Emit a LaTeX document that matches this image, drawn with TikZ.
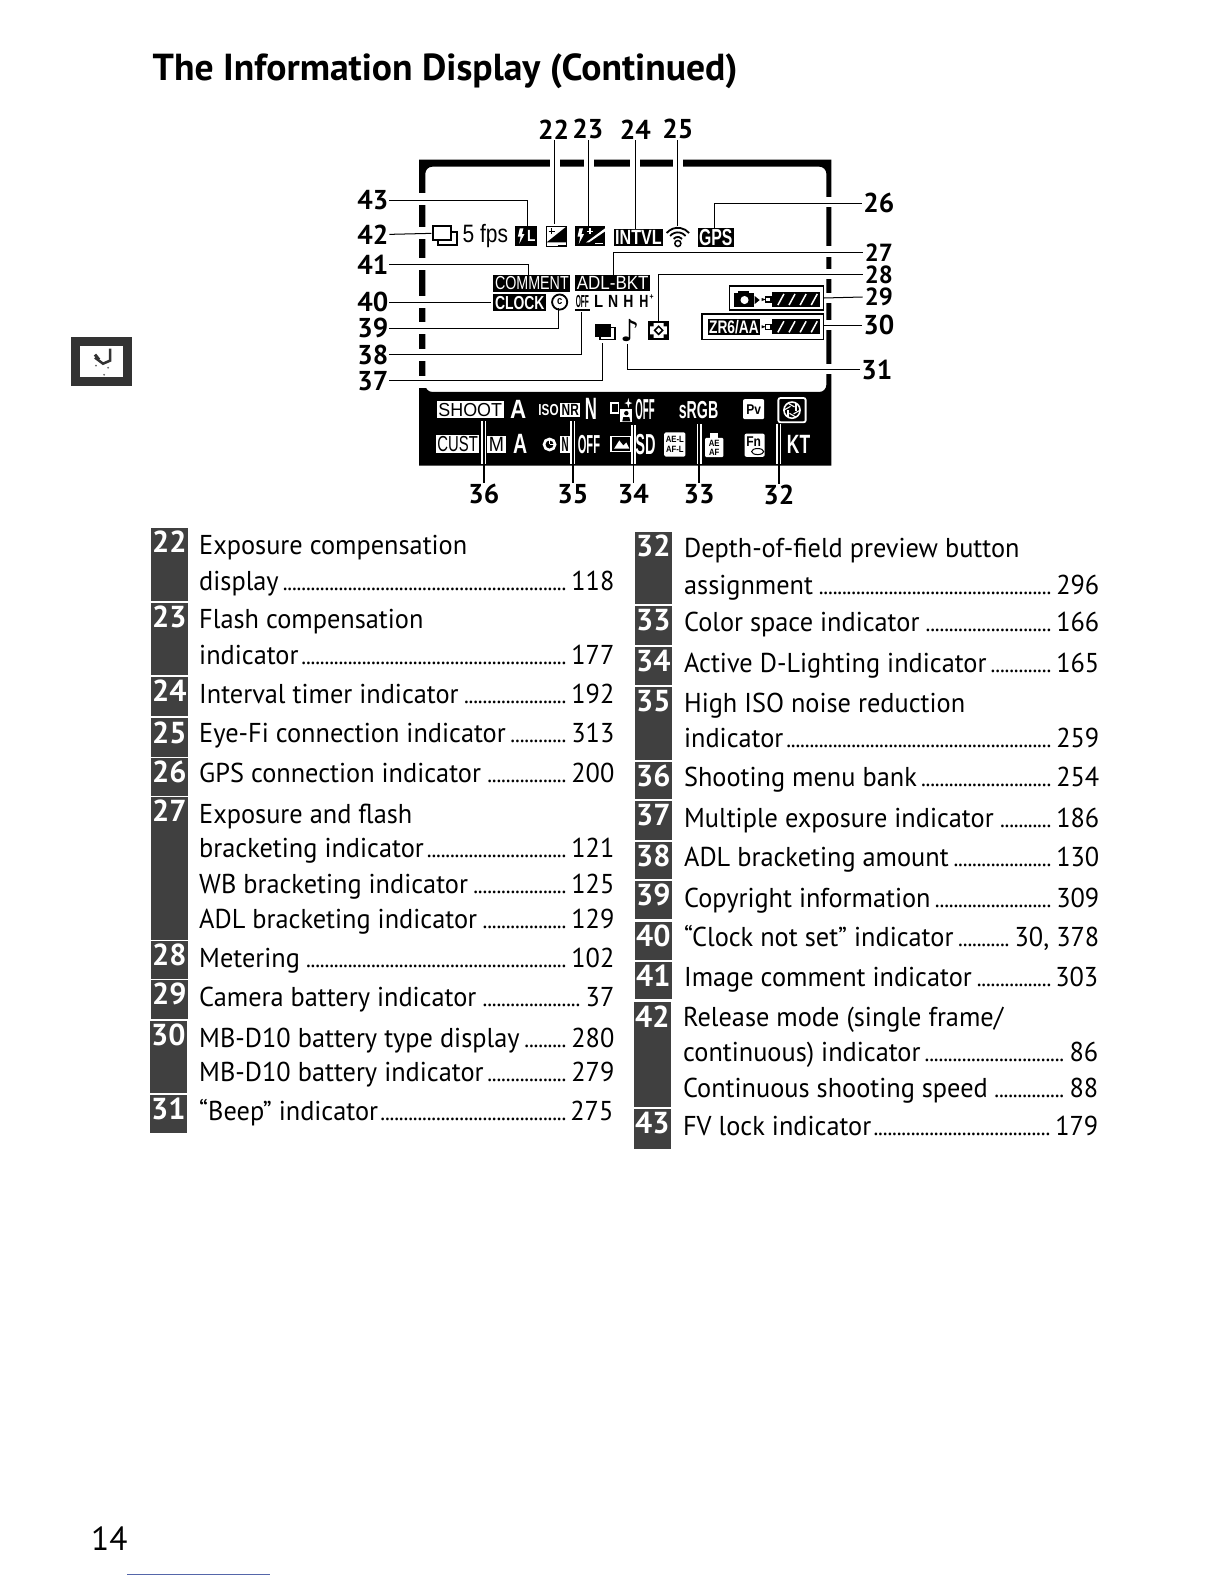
\documentclass[tikz,border=0pt]{standalone}
\usepackage{fontspec}
\usepackage{graphicx}
\setmainfont{PT Sans}
\newfontfamily\dispf[FakeStretch=0.85]{Liberation Sans}
\newfontfamily\bodyfam[FakeStretch=0.965]{PT Sans}
\newcommand\bodyf{\bodyfam\fontsize{27}{30}\selectfont}
\newcommand\lead{\leaders\hbox to 4.6pt{\hss\fontsize{23}{23}\selectfont.\hss}\hfill}
\definecolor{badgecol}{gray}{0.25}
\definecolor{rulecol}{HTML}{5566AA}
\tikzset{
  x=1pt,y=-1pt,
  lab/.style={font=\fontsize{27}{27}\selectfont\bfseries,inner sep=1pt,text=black},
  labtight/.style={font=\fontsize{24.5}{24.5}\selectfont\bfseries,inner sep=2pt,text=black},
  leader/.style={draw=black,line width=1pt},
  bandleader/.style={draw=white,line width=5pt},
  bandcore/.style={draw=black,line width=1.4pt},
  entry/.style={anchor=base west,inner sep=0pt,font=\bodyf},
  badge/.style={fill=badgecol,draw=none,inner sep=0pt,anchor=north west,minimum width=37pt},
  badgenum/.style={text=white,inner sep=0pt,anchor=north,font=\fontsize{30}{30}\selectfont\bfseries},
  plain/.style={inner sep=0pt,text=black},
  blk/.style={fill=black,text=white,inner sep=1.5pt},
  wht/.style={fill=white,text=black,inner sep=1.5pt},
  wtxt/.style={inner sep=0pt,text=white},
}
\newcommand\ftxt[7]{%
  \pgfmathsetmacro\ftw{#4-#2}\pgfmathsetmacro\fth{#5-#3}%
  \node[#6] (#1) at ({(#2+#4)/2},{(#3+#5)/2}) {\resizebox{\ftw pt}{\fth pt}{\dispf #7}};}
\newcommand\ent[6]{\pgfmathsetmacro\ftw{#3-#2}\node[entry] (#1) at (#2,#4) {\hbox to \ftw pt{#5\kern2pt\lead\kern3pt #6}};}
\newcommand\pl[4]{\node[entry] (#1) at (#2,#3) {#4};}
\newcommand\bdg[4]{\pgfmathsetmacro\fth{#4-#3}\node[badge,minimum height=\fth pt] (b#1) at (#2,#3) {};\node[badgenum] at ([yshift=-3pt]b#1.north) {#1};}
\newcommand\bolt[3]{\fill[white] ({#1+1.5*#3},{#2}) -- ({#1+3.6*#3},{#2}) -- ({#1+2.7*#3},{#2+3.4*#3}) -- ({#1+4.2*#3},{#2+3.4*#3}) -- ({#1+1.2*#3},{#2+9*#3}) -- ({#1+2*#3},{#2+4.8*#3}) -- ({#1+0.4*#3},{#2+4.8*#3}) -- cycle;}
\newcommand\batt[4]{%
  \draw[black,line width=1.4pt,fill=white] ({#1-6},{#3+5}) rectangle ({#1-1},{#4-5});
  \fill[black] ({#1-10},{#3+6}) -- ({#1-6},{(#3+#4)/2}) -- ({#1-10},{#4-6}) -- cycle;
  \fill[black] (#1,#3) rectangle (#2,#4);
  \foreach \k in {0,1,2,3}{\draw[white,line width=1.5pt] ({#1+6+\k*11},{#4-2}) -- ({#1+12+\k*11},{#3+2});}}
\begin{document}
\begin{tikzpicture}
\useasboundingbox (0,0) rectangle (1212,1568);
\fill[white] (0,0) rectangle (1212,1568);
% title
\node[anchor=base west,inner sep=0pt] (title) at (151,80) {\resizebox{579pt}{!}{\fontsize{36}{36}\selectfont\bfseries The Information Display (Continued)}};
% side tab
\draw[black!80,line width=9pt] (75,338) rectangle (126,378);
\draw[black!80,line width=2.5pt] (109,345) -- (109,357) -- (102,360) -- (94,354);
\draw[black!80,line width=3pt] (94,351) -- (98,356);
\fill[black!60] (95,362) circle (1) (107,364) circle (1) (103,371) circle (1);
% display frame
\fill[black,even odd rule,rounded corners=0pt] (415,158) rectangle (823,461)
  [rounded corners=7pt] (421,165) rectangle (818,388);
% gaps in the frame
\foreach \gx in {549,583,629,671}{\fill[white] ({\gx-5},156) rectangle ({\gx+5},167);}
\foreach \gy in {197,231,261,299,325,351,378}{\fill[white] (413,{\gy-6}) rectangle (423,{\gy+6});}
\foreach \gy in {200,249,271,295,322,365}{\fill[white] (816,{\gy-5}) rectangle (825,{\gy+5});}
% top row of icons
\draw[black,line width=2pt,fill=white] (434,230) rectangle (452,243);
\draw[black,line width=2pt,fill=white] (429,224) rectangle (446,238);
\ftxt{fps5}{458}{225}{503}{243}{plain}{5 fps}
\node[fill=black,minimum width=22pt,minimum height=20pt,inner sep=0pt] (i43) at (521,234) {};
\bolt{512}{226}{1.7}
\node[text=white,inner sep=0pt,font=\dispf\fontsize{16}{16}\selectfont\bfseries] (i43t) at (526,234) {L};
\node[draw=black,line width=1.5pt,minimum width=20pt,minimum height=20pt,inner sep=0pt] (i22) at (551,234) {};
\fill[black] (561,224) -- (561,240) -- (541,240) -- cycle;
\draw[black,line width=1.4pt] (543,229) -- (549,229) (546,226) -- (546,232);
\draw[black,line width=1.6pt] (552,243) -- (561,243);
\node[fill=black,minimum width=30pt,minimum height=20pt,inner sep=0pt] (i23) at (584,234) {};
\bolt{571}{226}{1.7}
\fill[white] (599,226) -- (599,229) -- (583,240) -- (580,240) -- cycle;
\draw[white,line width=1.4pt] (581,229) -- (587,229) (584,226) -- (584,232) (589,241) -- (597,241);
\ftxt{i24}{609}{228}{655}{242}{blk}{\bfseries INTVL}
\foreach \rr in {5.5,10,14.5}{\draw[black,line width=1.8pt] (671,240)++(-140:\rr) arc[start angle=-140,end angle=-40,radius=\rr];}
\node[draw=black,line width=1.5pt,circle,minimum size=6pt,inner sep=0pt] (i25) at (671,241) {};
\ftxt{i26}{692}{227}{725}{243}{blk}{\bfseries GPS}
% second row
\ftxt{i41}{490}{274}{563}{287}{blk}{COMMENT}
\ftxt{i27}{571}{274}{642}{287}{blk}{ADL-BKT}
\ftxt{i40}{490}{293}{539}{306}{blk}{\bfseries CLOCK}
\node[draw=black,line width=1.8pt,circle,minimum size=15pt,inner sep=0pt,font=\dispf\fontsize{11}{11}\selectfont\bfseries] (i39) at (554,299) {c};
\ftxt{i38}{570}{292}{583}{304}{plain}{\bfseries OFF}
\draw[black,line width=1.4pt] (569,307) -- (584,307);
\ftxt{q1}{588}{292}{597}{304}{plain}{\bfseries L}
\ftxt{q2}{602}{292}{612}{304}{plain}{\bfseries N}
\ftxt{q3}{617}{292}{627}{304}{plain}{\bfseries H}
\ftxt{q4}{633}{292}{642}{304}{plain}{\bfseries H}
\node[plain,font=\dispf\fontsize{8}{8}\selectfont\bfseries] (q5) at (645,294) {+};
% battery indicators
\draw[black,line width=1.6pt,fill=white] (722,283) rectangle (815,307);
\fill[black] (727,290) rectangle (746,304);
\fill[black] (731,288) rectangle (741,291);
\fill[white] (737,297) circle (4);
\fill[black] (747,293) -- (752,297) -- (747,301) -- cycle;
\batt{764}{812}{289}{304}
\draw[black,line width=1.6pt,fill=white] (695,311) rectangle (815,336);
\ftxt{zr}{702}{317}{751}{330}{blk}{\bfseries ZR6/AA}
\batt{764}{812}{316}{331}
% lower icons
\draw[black,line width=1.5pt,fill=white] (594,324) rectangle (609,336);
\node[fill=black,minimum width=16pt,minimum height=13pt,inner sep=0pt] (i37) at (597,327) {};
\node[inner sep=0pt,font=\fontsize{30}{30}\selectfont] (i31) at (624,327) {\fontspec{DejaVu Sans}♪};
\node[draw=black,line width=1.8pt,minimum width=19pt,minimum height=17pt,inner sep=0pt] (i28) at (652,327) {};
\draw[black,line width=1.5pt] (652,323) -- (656,327) -- (652,331) -- (648,327) -- cycle;
\fill[black] (643,319) rectangle (647,323) (657,319) rectangle (661,323) (643,331) rectangle (647,335) (657,331) rectangle (661,335);
% band, row 1
\ftxt{s1}{434}{399}{497}{412}{wht}{SHOOT}
\ftxt{s2}{505}{396}{521}{414}{wtxt}{\bfseries A}
\ftxt{s3}{533}{400}{553}{411}{wtxt}{\bfseries ISO}
\ftxt{s4}{556}{400}{573}{411}{wht}{\bfseries NR}
\ftxt{s5}{579}{394}{591}{415}{wtxt}{\bfseries N}
\draw[white,line width=1.4pt] (605,399) rectangle (612,409);
\fill[white] (614,405) rectangle (626,418);
\fill[black] (620,409) circle (2.2);
\fill[black] (616,417) -- (617,413) -- (623,413) -- (624,417) -- cycle;
\fill[white] (622,394) -- (623,398) -- (626,399) -- (623,400) -- (622,404) -- (621,400) -- (618,399) -- (621,398) -- cycle;
\ftxt{s7}{629}{395}{648}{415}{wtxt}{\bfseries OFF}
\ftxt{s8}{672}{397}{711}{414}{wtxt}{\bfseries sRGB}
\node[fill=white,rounded corners=2pt,minimum width=21pt,minimum height=20pt,inner sep=0pt,font=\dispf\fontsize{14}{14}\selectfont\bfseries,text=black] (s9) at (746,405) {Pv};
\node[draw=white,line width=1.8pt,rounded corners=2pt,minimum width=27pt,minimum height=24pt,inner sep=0pt] (s10) at (784,406) {};
\draw[white,line width=1.6pt] (784,406) circle (8);
\foreach \ang [evaluate=\ang as \bng using \ang+150] in {0,60,120,180,240,300}{\draw[white,line width=1.1pt] (784,406)++(\ang:8) -- ++(\bng:7.5);}
% band, row 2
\ftxt{c1}{433}{432}{473}{447}{wht}{CUST}
\ftxt{c2}{484}{433}{499}{447}{wht}{M}
\ftxt{c3}{508}{430}{522}{449}{wtxt}{\bfseries A}
\draw[white,line width=2.6pt] (544,440) circle (5.5);
\draw[white,line width=1.2pt] (544,440) -- (544,436) (544,440) -- (548,440);
\ftxt{c5}{556}{433}{563}{447}{wht}{\bfseries N}
\ftxt{c6}{572}{431}{594}{449}{wtxt}{\bfseries OFF}
\draw[white,line width=1.6pt] (605,432) rectangle (624,447);
\fill[white] (608,444) -- (613,436) -- (617,441) -- (620,438) -- (623,444) -- cycle;
\ftxt{c8}{629}{430}{649}{450}{wtxt}{\bfseries SD}
\node[fill=white,rounded corners=1.5pt,minimum width=21pt,minimum height=24pt,inner sep=0pt] (c9) at (668,440) {};
\node[inner sep=0pt,align=center,text=black,font=\dispf\fontsize{9}{10}\selectfont\bfseries] at (668,440) {AE-L\\AF-L};
\fill[white] (703,429) rectangle (711,434);
\node[fill=white,rounded corners=1pt,minimum width=18pt,minimum height=19pt,inner sep=0pt] (c10) at (707,443) {};
\node[inner sep=0pt,align=center,text=black,font=\dispf\fontsize{9}{9}\selectfont\bfseries] at (707,443) {AE\\AF};
\node[fill=white,rounded corners=2pt,minimum width=20pt,minimum height=23pt,inner sep=0pt,anchor=north] (c11) at (747,429) {};
\node[inner sep=0pt,text=black,font=\dispf\fontsize{14}{14}\selectfont\bfseries] at (746,437) {Fn};
\draw[black,line width=1pt] (750,447) ellipse (6 and 3);
\ftxt{c12}{779}{431}{802}{449}{wtxt}{\bfseries KT}
% labels
\node[lab] (l22) at (548,128) {22};
\node[lab] (l23) at (582,128) {23};
\node[lab] (l24) at (629,128) {24};
\node[lab] (l25) at (671,128) {25};
\node[lab] (l26) at (870,201) {26};
\node[labtight] (l27) at (870,250) {27};
\node[labtight] (l28) at (870,272) {28};
\node[labtight] (l29) at (870,294) {29};
\node[lab] (l30) at (870,322) {30};
\node[lab] (l31) at (868,366) {31};
\node[lab] (l43) at (369,198) {43};
\node[lab] (l42) at (369,232) {42};
\node[lab] (l41) at (369,262) {41};
\node[lab] (l40) at (369,299) {40};
\node[lab] (l39) at (369,325) {39};
\node[lab] (l38) at (369,351) {38};
\node[lab] (l37) at (369,377) {37};
\node[lab] (l36) at (479,489) {36};
\node[lab] (l35) at (567,489) {35};
\node[lab] (l34) at (627,489) {34};
\node[lab] (l33) at (692,489) {33};
\node[lab] (l32) at (771,490) {32};
% connector ends
\foreach \nm/\xx/\yy in {a22/549/222,a23/583/224,a24/629/227,a25/671/224,a26/707/227,a27/607/274,a28/652/318,a29/815/295,a30/815/322,a31/621/341,a43/522/224,a42/427/231,a41/523/272,a40/486/299,a39/553/305,a38/576/309,a37/596/340,a36/479/417,a35/567/417,a34/627/421,a33/692/420,a32/771/420}
  {\coordinate (\nm) at (\xx,\yy);}
\coordinate (bandbase) at (0,459);
% connectors
\foreach \n in {22,23,24,25}{\draw[leader] (a\n |- l\n.south) -- (a\n);}
\draw[leader] (l29.west) -- (a29);
\draw[leader] (l30.west) -- (a30);
\draw[leader] (l42.east) -- (a42);
\draw[leader] (l40.east) -- (a40);
\foreach \n in {26,27,28,31}{\draw[leader] (a\n) |- (l\n.west);}
\foreach \n in {43,41,39,38,37}{\draw[leader] (a\n) |- (l\n.east);}
\foreach \n in {36,35,34,33,32}{%
  \draw[bandleader] (a\n) -- (a\n |- bandbase);
  \draw[bandcore] (a\n) -- (a\n |- l\n.north);}
% left column
\bdg{22}{149}{522}{595}\bdg{23}{149}{597}{668}\bdg{24}{149}{670}{709}\bdg{25}{149}{711}{749}\bdg{26}{149}{750}{788}
\bdg{27}{149}{789}{930}\bdg{28}{149}{931}{969}\bdg{29}{149}{970}{1008}\bdg{30}{148}{1010}{1082}\bdg{31}{148}{1084}{1121}
\pl{e22}{197}{549}{Exposure compensation}
\ent{f22}{197}{608}{585}{display}{118}
\pl{e23}{197}{622}{Flash compensation}
\ent{f23}{197}{608}{658}{indicator}{177}
\ent{e24}{197}{608}{696}{Interval timer indicator}{192}
\ent{e25}{197}{608}{735}{Eye-Fi connection indicator}{313}
\ent{e26}{197}{608}{775}{GPS connection indicator}{200}
\pl{e27}{197}{815}{Exposure and flash}
\ent{f27}{197}{608}{849}{bracketing indicator}{121}
\ent{g27}{197}{608}{884}{WB bracketing indicator}{125}
\ent{h27}{197}{608}{919}{ADL bracketing indicator}{129}
\ent{e28}{197}{608}{958}{Metering}{102}
\ent{e29}{197}{608}{996}{Camera battery indicator}{37}
\ent{e30}{197}{608}{1037}{MB-D10 battery type display}{280}
\ent{f30}{197}{608}{1071}{MB-D10 battery indicator}{279}
\ent{e31}{197}{607}{1109}{“Beep” indicator}{275}
% right column
\bdg{32}{628}{526}{598}\bdg{33}{628}{600}{638}\bdg{34}{628}{640}{678}\bdg{35}{628}{680}{752}\bdg{36}{628}{754}{791}
\bdg{37}{628}{793}{831}\bdg{38}{628}{833}{870}\bdg{39}{628}{872}{910}\bdg{40}{628}{912}{950}\bdg{41}{628}{952}{989}\bdg{42}{627}{992}{1096}\bdg{43}{627}{1098}{1137}
\pl{e32}{677}{552}{Depth-of-field preview button}
\ent{f32}{677}{1088}{588}{assignment}{296}
\ent{e33}{677}{1088}{625}{Color space indicator}{166}
\ent{e34}{677}{1088}{666}{Active D-Lighting indicator}{165}
\pl{e35}{677}{705}{High ISO noise reduction}
\ent{f35}{677}{1088}{740}{indicator}{259}
\ent{e36}{677}{1088}{779}{Shooting menu bank}{254}
\ent{e37}{677}{1088}{819}{Multiple exposure indicator}{186}
\ent{e38}{677}{1088}{858}{ADL bracketing amount}{130}
\ent{e39}{677}{1088}{898}{Copyright information}{309}
\ent{e40}{677}{1088}{937}{“Clock not set” indicator}{30, 378}
\ent{e41}{677}{1087}{977}{Image comment indicator}{303}
\pl{e42}{676}{1016}{Release mode (single frame/}
\ent{f42}{676}{1087}{1051}{continuous) indicator}{86}
\ent{g42}{676}{1087}{1086}{Continuous shooting speed}{88}
\ent{e43}{676}{1087}{1124}{FV lock indicator}{179}
% page number and rule
\node[anchor=base west,inner sep=0pt,font=\fontsize{33}{33}\selectfont] (pg) at (90,1535) {14};
\coordinate (r1) at (126,1559);
\coordinate (r2) at (267,1559);
\draw[rulecol,line width=1pt] (r1) -- (r2);
\end{tikzpicture}
\end{document}
